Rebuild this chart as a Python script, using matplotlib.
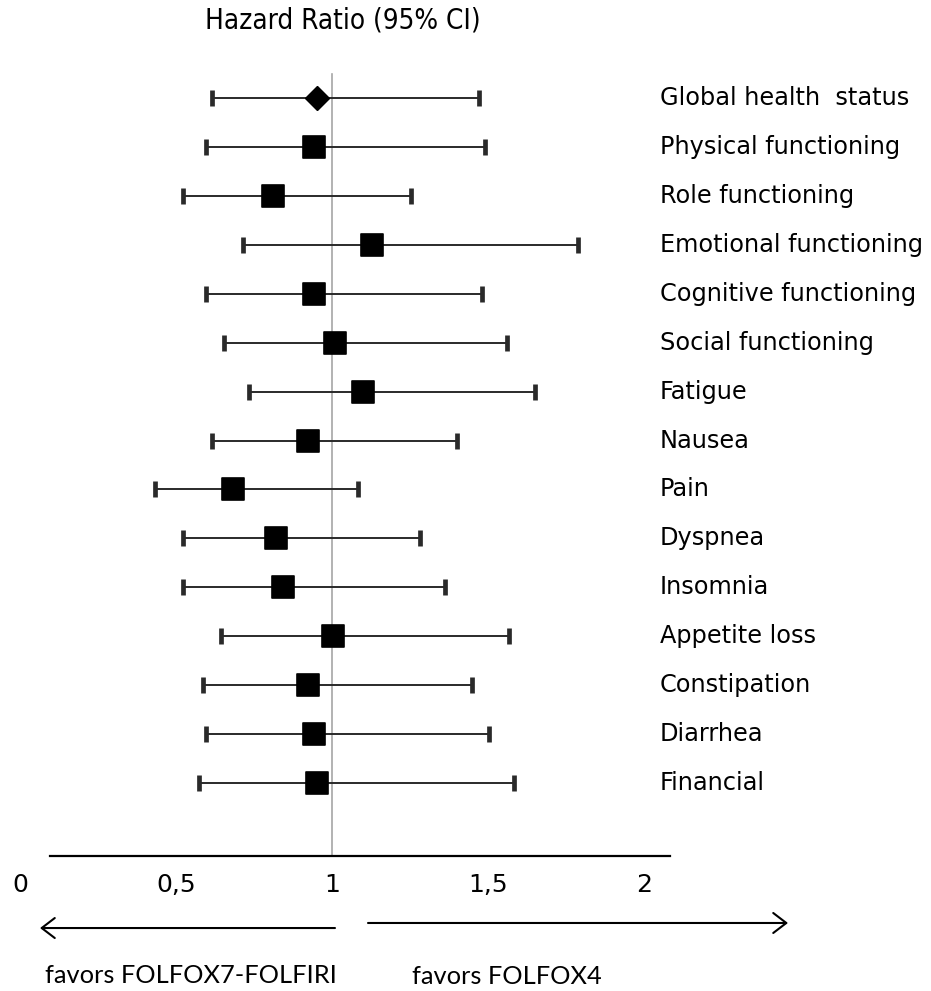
import numpy as np
import matplotlib
matplotlib.use("Agg")
import matplotlib.pyplot as plt
from matplotlib.markers import MarkerStyle

# QLQ-C30 scales, hazard ratio and 95% CI
scales = ["Global health  status", "Physical functioning", "Role functioning",
          "Emotional functioning", "Cognitive functioning", "Social functioning",
          "Fatigue", "Nausea", "Pain", "Dyspnea", "Insomnia", "Appetite loss",
          "Constipation", "Diarrhea", "Financial"]
hr = [0.949, 0.941, 0.810, 1.127, 0.941, 1.009, 1.098, 0.921, 0.680,
      0.819, 0.840, 1.001, 0.921, 0.941, 0.950]
ci_low = [0.614, 0.594, 0.522, 0.712, 0.594, 0.653, 0.732, 0.614, 0.432,
          0.522, 0.522, 0.644, 0.585, 0.594, 0.572]
ci_high = [1.471, 1.488, 1.252, 1.787, 1.478, 1.559, 1.648, 1.398, 1.083,
           1.280, 1.361, 1.567, 1.448, 1.501, 1.581]
tick_vals = [0, 0.5, 1, 1.5, 2]
tick_labels = ["0", "0,5", "1", "1,5", "2"]

hr = np.array(hr)
lo = np.array(ci_low)
hi = np.array(ci_high)
y = np.arange(len(scales))

fig = plt.figure(figsize=(9.31, 9.91), dpi=100)
ax = fig.add_axes([0, 1 - 856 / 991, 1, 856 / 991])
ax.set_xlim(-0.0657, 2.9183)
ax.set_ylim(15.491, -2.003)

# line of no effect
ax.plot([1, 1], [-0.49, 15.491], color="#a6a6a6", lw=1.2, zorder=1)

ax.errorbar(hr, y, xerr=[hr - lo, hi - hr], fmt="none", ecolor="#2a2a2a",
            elinewidth=1.4, capsize=5.6, capthick=3.4, zorder=2)

sq = MarkerStyle("s", joinstyle="round")
ax.plot(hr[1:], y[1:], linestyle="none", marker=sq, markersize=15.2,
        color="black", markeredgewidth=1.2, zorder=3)
ax.plot(hr[:1], y[:1], linestyle="none", marker="D", markersize=12,
        color="black", zorder=3)

for yi, name in zip(y, scales):
    ax.text(2.0497, yi, name, ha="left", va="center", fontsize=17.3,
            family="DejaVu Sans")

ax.text(1.034, -1.594, "Hazard Ratio (95% CI)", ha="center", va="center",
        fontsize=20, fontstretch="condensed", family="DejaVu Sans")

# x axis
for s in ["top", "left", "right"]:
    ax.spines[s].set_visible(False)
ax.spines["bottom"].set_bounds(0.0946, 2.0817)
ax.spines["bottom"].set_linewidth(1.6)
ax.set_yticks([])
ax.set_xticks(tick_vals)
ax.set_xticklabels(tick_labels, fontsize=18, family="DejaVu Sans")
ax.tick_params(axis="x", length=0, pad=12)

# direction arrows and captions
arrow = dict(arrowstyle="->,head_length=0.47,head_width=0.36", lw=1.5,
             color="black", shrinkA=0, shrinkB=0, mutation_scale=20)
ax.annotate("", xy=(0.0625, 16.963), xytext=(1.008, 16.963),
            arrowprops=arrow, annotation_clip=False)
ax.annotate("", xy=(2.46, 16.86), xytext=(1.1138, 16.86),
            arrowprops=arrow, annotation_clip=False)
ax.text(0.0785, 17.924, "favors FOLFOX7-FOLFIRI", ha="left", va="center",
        fontsize=18.3, family="Lato", clip_on=False)
ax.text(1.2548, 17.96, "favors FOLFOX4", ha="left", va="center",
        fontsize=18.3, family="Lato", clip_on=False)

fig.savefig("out.png", dpi=100)
